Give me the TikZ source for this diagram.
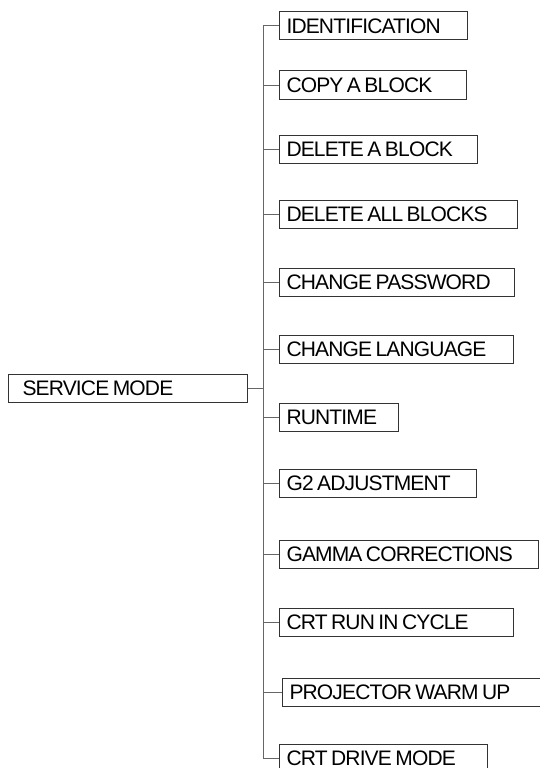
\documentclass[tikz,border=0pt]{standalone}
\usepackage{fontspec}
\setmainfont{Liberation Sans}[LetterSpace=-4]
\usepackage{xcolor}
\usepackage{tikz}
\usetikzlibrary{positioning}

\begin{document}
\begin{tikzpicture}[x=1pt, y=-1pt, every node/.style={font=\fontsize{21}{22}\selectfont},
  box/.style={draw=black!80, line width=1pt, anchor=west, align=left, minimum height=28pt,
    inner xsep=7pt, text height=15pt, text depth=0pt, execute at begin node={\spaceskip=3.5pt\relax}},
  item/.style={box, text width=#1}, root/.style={box, inner xsep=14pt, text width=#1},
  link/.style={draw=black!60, line width=1pt}]
\useasboundingbox (0,0) rectangle (539,768);
\node[root=211pt] (svc) at (8,388) {SERVICE MODE};
\node[item=174pt] (ident) at (279,26) {IDENTIFICATION};
\node[item=173pt] (copy) at (279,85) {COPY A BLOCK};
\node[item=184pt] (delone) at (279,149) {DELETE A BLOCK};
\node[item=224pt] (delall) at (279,214) {DELETE ALL BLOCKS};
\node[item=221pt] (passwd) at (279,282) {CHANGE PASSWORD};
\node[item=220pt] (lang) at (279,349) {CHANGE LANGUAGE};
\node[item=105pt] (runtime) at (279,417) {RUNTIME};
\node[item=183pt] (gtwo) at (279,483) {G2 ADJUSTMENT};
\node[item=245pt] (gamma) at (279,554) {GAMMA CORRECTIONS};
\node[item=220pt] (runin) at (279,622) {CRT RUN IN CYCLE};
\node[item=256pt] (warmup) at (282,692) {PROJECTOR WARM UP};
\node[item=194pt] (drive) at (279,758) {CRT DRIVE MODE};
\coordinate (spine) at (263,388);
% vertical spine and the branches
\draw[link] (ident.west -| spine) -- (drive.west -| spine); \draw[link] (svc.east) -- (spine);
\draw[link] (ident.west) -- (ident.west -| spine); \draw[link] (copy.west) -- (copy.west -| spine);
\draw[link] (delone.west) -- (delone.west -| spine); \draw[link] (delall.west) -- (delall.west -| spine);
\draw[link] (passwd.west) -- (passwd.west -| spine); \draw[link] (lang.west) -- (lang.west -| spine);
\draw[link] (runtime.west) -- (runtime.west -| spine); \draw[link] (gtwo.west) -- (gtwo.west -| spine);
\draw[link] (gamma.west) -- (gamma.west -| spine); \draw[link] (runin.west) -- (runin.west -| spine);
\draw[link] (warmup.west) -- (warmup.west -| spine); \draw[link] (drive.west) -- (drive.west -| spine);
\end{tikzpicture}
\end{document}
